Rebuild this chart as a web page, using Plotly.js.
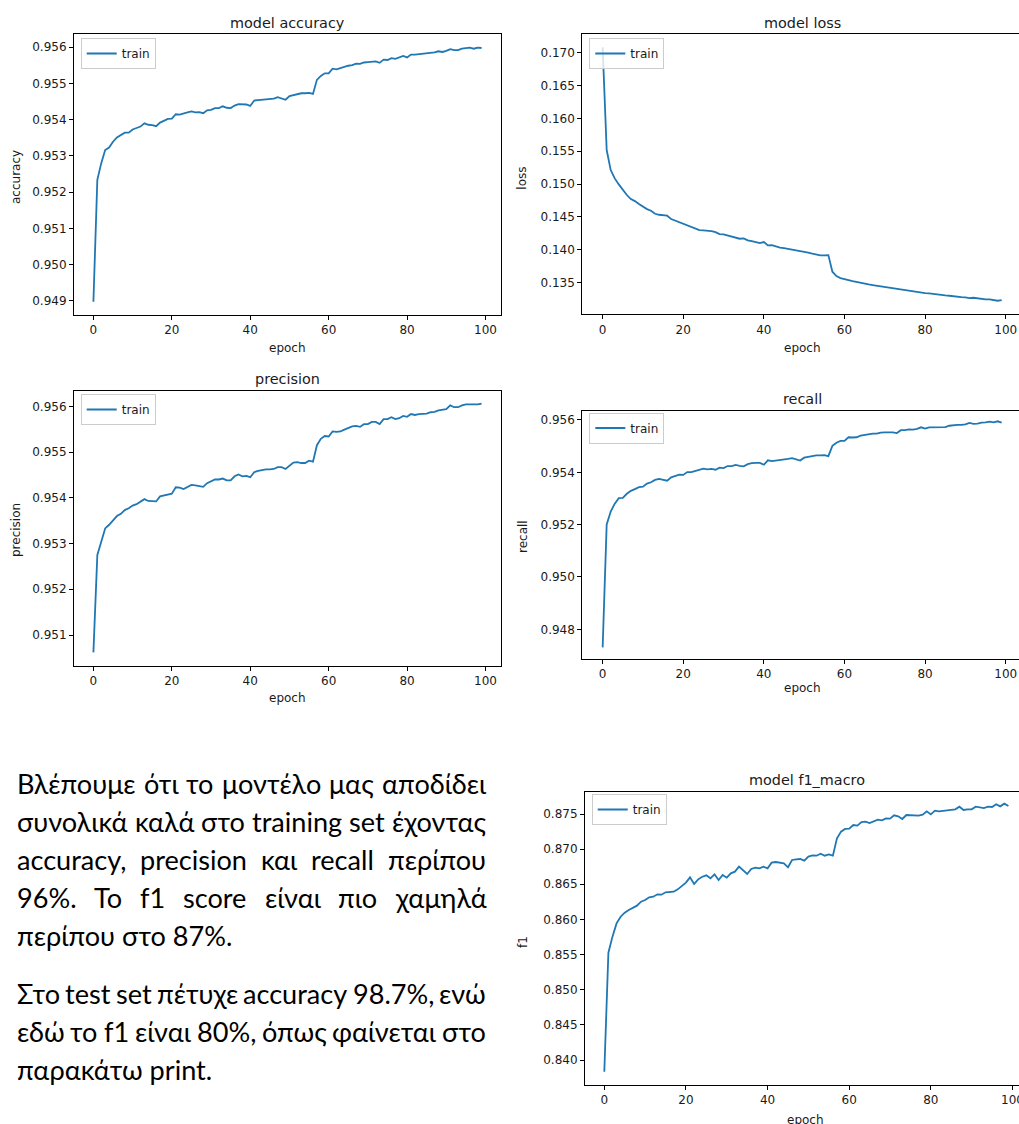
<!DOCTYPE html>
<html>
<head>
<meta charset="utf-8">
<script src="https://cdn.plot.ly/plotly-3.0.1.min.js"></script>
<style>
  html, body { margin: 0; padding: 0; background: #ffffff; }
  #chart { width: 1019px; height: 1124px; }
</style>
</head>
<body>
<div id="chart"></div>
<script>
// ---------------- DATA ----------------
const epochs = [0,1,2,3,4,5,6,7,8,9,10,11,12,13,14,15,16,17,18,19,20,21,22,23,24,25,26,27,28,29,30,31,32,33,34,35,36,37,38,39,40,41,42,43,44,45,46,47,48,49,50,51,52,53,54,55,56,57,58,59,60,61,62,63,64,65,66,67,68,69,70,71,72,73,74,75,76,77,78,79,80,81,82,83,84,85,86,87,88,89,90,91,92,93,94,95,96,97,98,99];

const accuracy = [0.94897,0.95234,0.95280,0.95316,0.95323,0.95339,0.95351,0.95358,0.95364,0.95364,
0.95373,0.95377,0.95381,0.95390,0.95386,0.95385,0.95382,0.95392,0.95397,0.95402,
0.95403,0.95415,0.95414,0.95416,0.95420,0.95423,0.95420,0.95421,0.95418,0.95426,
0.95427,0.95432,0.95432,0.95437,0.95433,0.95432,0.95439,0.95443,0.95443,0.95442,
0.95438,0.95453,0.95454,0.95455,0.95455,0.95456,0.95458,0.95462,0.95458,0.95455,
0.95465,0.95468,0.95472,0.95473,0.95473,0.95474,0.95471,0.95510,0.95521,0.95528,
0.95528,0.95541,0.95539,0.95543,0.95547,0.95549,0.95551,0.95555,0.95554,0.95558,
0.95559,0.95560,0.95561,0.95557,0.95566,0.95565,0.95570,0.95568,0.95571,0.95576,
0.95572,0.95580,0.95580,0.95581,0.95581,0.95582,0.95585,0.95586,0.95589,0.95587,
0.95590,0.95595,0.95592,0.95592,0.95596,0.95597,0.95599,0.95596,0.95599,0.95598];

const loss = [0.17081,0.15519,0.15214,0.15087,0.14996,0.14910,0.14834,0.14773,0.14742,0.14697,
0.14656,0.14620,0.14595,0.14549,0.14534,0.14524,0.14519,0.14468,0.14443,0.14423,
0.14402,0.14372,0.14347,0.14321,0.14301,0.14296,0.14296,0.14286,0.14270,0.14240,
0.14235,0.14220,0.14199,0.14179,0.14169,0.14174,0.14144,0.14133,0.14113,0.14103,
0.14118,0.14067,0.14072,0.14052,0.14032,0.14027,0.14017,0.14001,0.13996,0.13986,
0.13966,0.13956,0.13941,0.13925,0.13915,0.13915,0.13920,0.13667,0.13601,0.13570,
0.13550,0.13540,0.13525,0.13510,0.13494,0.13484,0.13474,0.13464,0.13454,0.13449,
0.13438,0.13423,0.13413,0.13413,0.13403,0.13388,0.13378,0.13373,0.13357,0.13347,
0.13342,0.13337,0.13327,0.13322,0.13317,0.13306,0.13301,0.13291,0.13286,0.13281,
0.13276,0.13266,0.13271,0.13261,0.13251,0.13246,0.13246,0.13240,0.13225,0.13235];

const precision = [0.95062,0.95275,0.95304,0.95333,0.95341,0.95351,0.95360,0.95365,0.95373,0.95377,
0.95383,0.95386,0.95392,0.95397,0.95393,0.95392,0.95392,0.95403,0.95405,0.95408,
0.95409,0.95423,0.95422,0.95419,0.95424,0.95428,0.95427,0.95426,0.95424,0.95432,
0.95436,0.95440,0.95440,0.95442,0.95438,0.95438,0.95447,0.95451,0.95447,0.95448,
0.95445,0.95456,0.95459,0.95461,0.95462,0.95462,0.95463,0.95467,0.95467,0.95463,
0.95470,0.95477,0.95478,0.95476,0.95476,0.95481,0.95479,0.95515,0.95529,0.95535,
0.95534,0.95545,0.95544,0.95545,0.95549,0.95552,0.95556,0.95557,0.95555,0.95561,
0.95561,0.95566,0.95566,0.95561,0.95572,0.95572,0.95576,0.95572,0.95574,0.95579,
0.95577,0.95583,0.95581,0.95583,0.95584,0.95584,0.95587,0.95588,0.95591,0.95593,
0.95594,0.95602,0.95598,0.95598,0.95602,0.95604,0.95604,0.95603,0.95604,0.95606];

const recall = [0.94731,0.95201,0.95250,0.95280,0.95301,0.95302,0.95318,0.95329,0.95336,0.95343,
0.95345,0.95357,0.95362,0.95371,0.95375,0.95372,0.95368,0.95381,0.95387,0.95391,
0.95390,0.95401,0.95401,0.95405,0.95409,0.95414,0.95411,0.95413,0.95410,0.95418,
0.95416,0.95424,0.95424,0.95428,0.95425,0.95423,0.95431,0.95435,0.95436,0.95436,
0.95429,0.95446,0.95443,0.95445,0.95446,0.95447,0.95451,0.95454,0.95449,0.95445,
0.95456,0.95459,0.95462,0.95465,0.95465,0.95466,0.95462,0.95501,0.95513,0.95520,
0.95520,0.95534,0.95533,0.95534,0.95540,0.95543,0.95545,0.95548,0.95548,0.95552,
0.95553,0.95553,0.95553,0.95550,0.95561,0.95561,0.95564,0.95563,0.95566,0.95572,
0.95567,0.95572,0.95572,0.95573,0.95573,0.95573,0.95578,0.95580,0.95581,0.95581,
0.95583,0.95589,0.95585,0.95586,0.95590,0.95591,0.95594,0.95591,0.95595,0.95590];

const f1 = [0.83834,0.85527,0.85755,0.85944,0.86039,0.86096,0.86134,0.86167,0.86196,0.86253,
0.86276,0.86314,0.86324,0.86357,0.86352,0.86386,0.86395,0.86395,0.86428,0.86476,
0.86523,0.86599,0.86504,0.86570,0.86608,0.86627,0.86585,0.86642,0.86561,0.86632,
0.86594,0.86656,0.86680,0.86751,0.86703,0.86647,0.86718,0.86737,0.86727,0.86751,
0.86727,0.86808,0.86817,0.86803,0.86798,0.86742,0.86846,0.86855,0.86860,0.86836,
0.86893,0.86912,0.86907,0.86936,0.86907,0.86926,0.86907,0.87154,0.87249,0.87287,
0.87291,0.87343,0.87334,0.87386,0.87391,0.87372,0.87396,0.87419,0.87410,0.87438,
0.87434,0.87481,0.87467,0.87429,0.87486,0.87486,0.87476,0.87476,0.87491,0.87538,
0.87495,0.87547,0.87538,0.87547,0.87557,0.87562,0.87566,0.87604,0.87557,0.87566,
0.87566,0.87604,0.87590,0.87585,0.87604,0.87600,0.87638,0.87609,0.87647,0.87614];

const xTicks = [0, 20, 40, 60, 80, 100];
const accTicks = [0.949, 0.950, 0.951, 0.952, 0.953, 0.954, 0.955, 0.956];
const lossTicks = [0.135, 0.140, 0.145, 0.150, 0.155, 0.160, 0.165, 0.170];
const precTicks = [0.951, 0.952, 0.953, 0.954, 0.955, 0.956];
const recTicks = [0.948, 0.950, 0.952, 0.954, 0.956];
const f1Ticks = [0.840, 0.845, 0.850, 0.855, 0.860, 0.865, 0.870, 0.875];

const plotTitles = ["model accuracy", "model loss", "precision", "recall", "model f1_macro"];
const yTitles = ["accuracy", "loss", "precision", "recall", "f1"];
const xTitle = "epoch";
const seriesName = "train";

const para1 = ["Βλέπουμε ότι το μοντέλο μας αποδίδει",
               "συνολικά καλά στο training set έχοντας",
               "accuracy, precision και recall περίπου",
               "96%. Το f1 score είναι πιο χαμηλά",
               "περίπου στο 87%."];
const para2 = ["Στο test set πέτυχε accuracy 98.7%, ενώ",
               "εδώ το f1 είναι 80%, όπως φαίνεται στο",
               "παρακάτω print."];

// ---------------- LAYOUT HELPERS ----------------
const W = 1019, H = 1124;
const px = v => v / W;
const py = v => 1 - v / H;
const BLUE = '#1f77b4';
const TXT = '#1a1a1a';
const MONO = 'DejaVu Sans, sans-serif';

// panel boxes in pixels: [left, right, top, bottom], x range, y range
const panels = [
  {L: 74,    R: 501,  T: 34,    B: 315,   xr: [-4.95, 103.95], yr: [0.948605, 0.956367], yt: accTicks, fmt: '.3f', mirrorY: true,
   title: [287.5, 22.7], ytl: [16, 177], xtl: [287.5, 348.3], leg: [80.7, 38]},
  {L: 582.3, R: 1019, T: 34.3,  B: 314.3, xr: [-5.05, 103.3],  yr: [0.13019, 0.1728],   yt: lossTicks, fmt: '.3f', mirrorY: false,
   title: [802.7, 22.7], ytl: [521.7, 178], xtl: [802.7, 347.7], leg: [589.3, 38]},
  {L: 74,    R: 501,  T: 390.7, B: 665.7, xr: [-4.95, 103.95], yr: [0.950329, 0.956341], yt: precTicks, fmt: '.3f', mirrorY: true,
   title: [287.5, 379], ytl: [16, 530], xtl: [287.5, 698.3], leg: [80.7, 394]},
  {L: 582.3, R: 1019, T: 410.7, B: 659,   xr: [-5.05, 103.3],  yr: [0.946865, 0.956355], yt: recTicks, fmt: '.3f', mirrorY: false,
   title: [802.7, 399], ytl: [522.3, 536.7], xtl: [802.7, 688.3], leg: [589.3, 412.5]},
  {L: 585,   R: 1019, T: 791.7, B: 1085,  xr: [-4.73, 101.6],  yr: [0.836443, 0.878173], yt: f1Ticks, fmt: '.3f', mirrorY: false,
   title: [806.7, 780], ytl: [522.3, 941.7], xtl: [805, 1119.5], leg: [591.7, 794]}
];
const ySeries = [accuracy, loss, precision, recall, f1];

const layout = {
  width: W, height: H,
  margin: {l: 0, r: 0, t: 0, b: 0},
  paper_bgcolor: '#ffffff', plot_bgcolor: '#ffffff',
  showlegend: true,
  annotations: [],
  font: {family: MONO, color: TXT, size: 12}
};
const data = [];

panels.forEach((p, i) => {
  const k = i === 0 ? '' : String(i + 1);
  const axCommon = {
    showline: true, linecolor: '#000', linewidth: 1,
    ticks: 'outside', ticklen: 4, tickwidth: 1, tickcolor: '#000',
    showgrid: false, zeroline: false,
    tickfont: {family: MONO, size: 12, color: TXT},
    fixedrange: true
  };
  layout['xaxis' + k] = Object.assign({}, axCommon, {
    domain: [px(p.L), px(p.R)], range: p.xr, anchor: 'y' + k,
    tickvals: xTicks, mirror: true, ticklabeloverflow: 'allow'
  });
  layout['yaxis' + k] = Object.assign({}, axCommon, {
    domain: [py(p.B), py(p.T)], range: p.yr, anchor: 'x' + k,
    tickvals: p.yt, tickformat: p.fmt, mirror: p.mirrorY
  });
  const legName = i === 0 ? 'legend' : 'legend' + (i + 1);
  layout[legName] = {
    x: px(p.leg[0]), y: py(p.leg[1]), xanchor: 'left', yanchor: 'top',
    xref: 'paper', yref: 'paper',
    bgcolor: 'rgba(255,255,255,0.8)', bordercolor: '#cccccc', borderwidth: 1,
    font: {family: MONO, size: 12, color: TXT}, itemwidth: 30
  };
  data.push({
    x: epochs, y: ySeries[i], type: 'scatter', mode: 'lines',
    name: seriesName, legend: legName,
    xaxis: 'x' + k, yaxis: 'y' + k,
    line: {color: BLUE, width: 1.8}, hoverinfo: 'skip'
  });
  layout.annotations.push({
    text: plotTitles[i], xref: 'paper', yref: 'paper',
    x: px(p.title[0]), y: py(p.title[1]), xanchor: 'center', yanchor: 'middle',
    showarrow: false, font: {family: MONO, size: 14.4, color: TXT}
  });
  layout.annotations.push({
    text: yTitles[i], xref: 'paper', yref: 'paper', textangle: -90,
    x: px(p.ytl[0]), y: py(p.ytl[1]), xanchor: 'center', yanchor: 'middle',
    showarrow: false, font: {family: MONO, size: 12, color: TXT}
  });
  layout.annotations.push({
    text: xTitle, xref: 'paper', yref: 'paper',
    x: px(p.xtl[0]), y: py(p.xtl[1]), xanchor: 'center', yanchor: 'middle',
    showarrow: false, font: {family: MONO, size: 12, color: TXT}
  });
});

// ---------------- PARAGRAPH (justified, Calibri-like) ----------------
const PFONT = 'Lato, "Open Sans", "Noto Sans", sans-serif';
const ctx = document.createElement('canvas').getContext('2d');
function tw(t, fs) { ctx.font = fs + 'px ' + PFONT; return ctx.measureText(t).width; }
const fitA = 214 / tw('περίπου στο 87%.', 100);
const fitB = 196 / tw('παρακάτω print.', 100);
const FS = Math.round(((fitA + fitB) / 2) * 100 * 10) / 10;
const TL = 16, TR = 485;
const baselines1 = [792, 830.4, 868.5, 906.2, 944.2];
const baselines2 = [1002, 1040.4, 1078.7];

function addPara(lines, baselines) {
  lines.forEach((line, li) => {
    const yc = baselines[li] - 0.33 * FS;
    const last = li === lines.length - 1;
    if (last) {
      layout.annotations.push({
        text: line, xref: 'paper', yref: 'paper', x: px(TL), y: py(yc),
        xanchor: 'left', yanchor: 'middle', showarrow: false, borderpad: 0,
        font: {family: PFONT, size: FS, color: '#000'}
      });
      return;
    }
    const words = line.split(' ');
    const widths = words.map(w => tw(w, FS));
    const sum = widths.reduce((a, b) => a + b, 0);
    const gap = (TR - TL - sum) / (words.length - 1);
    let x = TL;
    words.forEach((w, wi) => {
      layout.annotations.push({
        text: w, xref: 'paper', yref: 'paper', x: px(x), y: py(yc),
        xanchor: 'left', yanchor: 'middle', showarrow: false, borderpad: 0,
        font: {family: PFONT, size: FS, color: '#000'}
      });
      x += widths[wi] + gap;
    });
  });
}
addPara(para1, baselines1);
addPara(para2, baselines2);

Plotly.newPlot('chart', data, layout, {staticPlot: true, displayModeBar: false});
</script>
</body>
</html>
